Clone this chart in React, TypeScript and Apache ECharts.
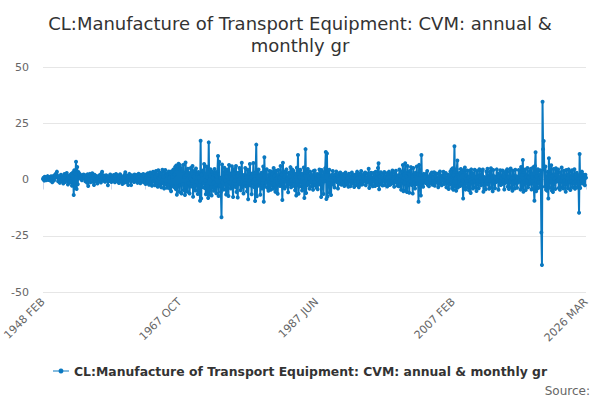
import React, { useEffect, useRef } from "react";
import * as echarts from "echarts";

const TITLE = "CL:Manufacture of Transport Equipment: CVM: annual &\nmonthly gr";
const SERIES_NAME = "CL:Manufacture of Transport Equipment: CVM: annual & monthly gr";
const MONTHS = ["JAN", "FEB", "MAR", "APR", "MAY", "JUN", "JUL", "AUG", "SEP", "OCT", "NOV", "DEC"];
const START_YEAR = 1948;
const START_MONTH = 1; // FEB (0-based)
const Y_TICKS = [-50, -25, 0, 25, 50];

const seg1948 = [
  0.2, 0.8, -0.5, 1.2, 0.6, -0.3, 1.0, 0.4, 1.5, -0.2, 0.9, 0.3,
  1.1, -0.6, 1.4, 0.5, -1.2, 0.8, 1.6, -0.4, 0.7, 2.2, 1.0, 2.8,
  3.5, 1.2, -0.8, 1.5, 0.4, -1.5, 0.9, 2.1, -0.7, 1.3, 0.2, -1.8,
  0.6, 2.4, -1.1, 1.8, -0.4, 2.9, 0.3, -2.2, 1.6, 0.8, -1.4, 2.0,
  -0.9, 2.6, -2.8, 1.4, 3.2, -6.9, 4.1, -3.8, 2.5, 7.9, -4.2, 5.6,
  -2.1, 3.3, 1.2, 2.6, 0.4, 2.0, 1.5, -0.3, 1.8, 0.9, 2.2, 0.5,
  1.4, -0.8, 1.9, 0.6, -1.5, 2.3, -2.9, 1.7, 0.2, 2.5, -1.2, 1.9,
  0.7, 2.8, -1.0, 1.3, -2.4, 2.1, 0.4, -0.9, 1.6, 0.3, -1.8, 0.8,
  1.5, -0.6, 2.0, 1.1, -1.3, 2.7, 3.4, 0.9, -0.5, 1.8, 0.2, -1.0,
  0.6, 1.9, -0.4, 1.2, -2.6, 0.8, 1.5, -0.7, 2.2, 0.3, -1.1, 0.9,
];

const seg1958 = [
  1.4, -0.5, 2.0, 0.7, -1.2, 1.6, 2.4, 0.3, -0.8, 1.8, 0.5, -1.6,
  1.1, 2.3, -0.9, 1.5, 0.2, -2.0, 1.3, 0.6, -1.4, 2.1, 3.2, 0.8,
  -1.2, 1.7, 0.4, -2.4, 1.2, 2.5, -0.6, 1.0, -2.5, 1.9, 0.7, -0.3,
  1.6, -1.1, 2.2, 0.5, -0.8, 1.4, 2.0, -1.5, 0.9, 2.6, -0.4, 1.3,
  -1.7, 2.1, 0.6, -0.9, 1.8, 2.4, -1.2, 1.5, 0.3, -2.0, 2.2, 1.0,
  -1.6, 2.8, 0.5, -2.3, 1.9, 3.1, -1.4, 2.4, -2.8, 1.6, 3.4, -1.0,
  2.7, -2.6, 1.3, 3.8, -1.9, 2.2, -3.2, 4.1, 0.6, -2.7, 3.0, 1.5,
  -3.5, 2.4, 4.3, -1.8, 1.2, -4.0, 3.3, 4.2, -2.2, 1.9, -3.7, 2.8,
  -2.4, 3.6, 0.8, -4.1, 2.9, -5.2, 3.7, 1.1, -2.9, 4.4, -3.3, 2.2,
  5.6, -4.2, 6.2, -6.8, 4.8, -3.1, 7.0, -5.5, 6.4, -2.6, 5.1, -6.2,
];

const seg1968 = [
  3.8, -2.1, 6.5, -4.8, 1.2, -6.9, 7.6, 2.1, -3.3, -5.4, 4.8, -1.6,
  2.9, -6.2, 0.4, 5.1, -3.1, -0.5, 6.0, -7.7, 1.3, 3.8, -2.6, -4.9,
  4.9, -1.0, 2.6, -6.4, 3.3, 0.9, -2.5, -9.4, 17.2, -8.4, 2.1, -3.3,
  4.0, -1.6, 6.9, -3.8, -0.4, -6.6, 5.8, 1.0, -2.9, -8.2, 16.5, -6.8,
  1.7, 4.6, -3.4, -7.1, 3.5, 0.8, -1.3, -5.0, 4.7, 2.9, -2.5, -6.1,
  1.2, 3.5, 10.4, -7.3, 7.9, -2.8, 0.8, -5.6, -16.8, 6.7, -1.4, 2.6,
  -4.5, 5.2, -0.4, 3.9, -6.7, 1.2, 4.4, -2.8, -7.3, 6.4, -1.1, 2.7,
  -4.0, 0.3, 5.9, -3.1, -7.8, 2.8, 4.7, -0.6, -3.3, 6.0, -5.6, 1.5,
  -8.0, 3.0, -1.3, 5.1, -2.0, -4.8, 1.9, 7.4, -3.5, 0.5, -6.2, 2.0,
  -1.7, 5.1, -3.0, 0.9, -5.2, 4.3, -8.8, 2.4, -0.6, 6.9, -2.7, 1.0,
];

const seg1978 = [
  -6.6, 2.7, -1.2, 7.3, -3.3, 0.1, -9.6, 3.2, 15.5, -7.4, 1.6, -2.8,
  4.4, -0.9, 2.0, -6.8, 1.3, 3.0, -4.0, -1.6, 5.8, -9.9, 9.9, -3.1,
  2.5, -1.4, 4.6, -3.7, 0.3, -5.0, 2.0, 3.8, -2.8, -4.6, 3.6, -0.2,
  2.5, -4.1, 5.1, 1.7, -2.2, -5.5, 3.9, 0.4, -1.8, -6.3, 4.2, -2.5,
  0.9, -2.9, 6.0, -1.0, 2.1, -9.1, 7.4, -3.2, 1.1, -4.0, 3.6, -0.8,
  4.5, -3.0, 0.4, -5.7, 3.0, 1.3, -2.2, 5.5, -3.5, -0.4, 4.4, -2.9,
  3.9, -0.6, 2.7, -4.8, 1.1, -7.1, 5.2, -2.4, 10.9, -6.3, 1.0, -3.1,
  4.3, -1.2, 2.7, -4.9, 0.8, -3.3, 5.3, -8.2, 2.9, 13.5, -6.0, 3.1,
  -2.6, 4.7, -1.4, 0.3, -4.1, 3.5, -0.9, 2.2, -3.0, 1.1, -4.6, 3.8,
  -1.1, 4.0, -2.7, 0.6, -3.7, 2.4, -4.3, 1.4, -2.2, 4.4, -1.0, 3.0,
];

const seg1988 = [
  -7.8, 4.2, -2.0, 1.8, -6.4, 3.3, -0.9, 5.0, 12.2, -8.7, 11.6, -7.6,
  3.4, -1.8, 4.3, -5.9, 1.1, -6.9, 2.0, -0.2, 3.8, -2.3, 0.7, -3.6,
  2.2, -0.5, 3.6, -1.1, 1.9, -4.0, 0.2, 2.8, -1.9, 3.1, -0.7, -2.3,
  1.8, -1.5, 2.4, 0.6, -2.9, 1.6, 3.1, -0.8, -2.2, 1.7, 0.6, -3.2,
  2.6, -0.5, 1.4, -2.9, 0.9, 3.1, -1.8, 0.7, 2.0, -3.3, 1.7, -0.6,
  2.3, -2.4, 3.5, 0.4, -1.0, -3.4, 2.5, 1.0, -2.3, 3.8, -0.8, -2.2,
  1.9, -1.1, 2.7, -0.6, 3.1, -2.6, 0.8, -1.3, 2.5, -0.9, 4.8, -3.8,
  1.1, -0.7, 3.0, -2.5, 0.6, -3.0, 2.9, 0.5, 1.2, -2.9, 3.4, -1.0,
  0.7, -2.4, 5.1, 7.2, -4.3, 1.4, -0.9, 3.2, -2.2, 0.9, -2.7, 2.6,
  -0.6, 3.3, -2.5, 1.0, -0.8, 2.8, -3.1, 0.7, -1.0, 3.5, -2.4, 1.2,
];

const seg1998 = [
  -2.1, 2.6, -0.9, 4.0, -1.7, 0.3, -3.2, 2.8, -0.6, 3.9, -1.5, 0.4,
  -2.8, 1.9, -3.0, 4.4, -0.3, 1.7, -4.6, 3.6, -0.8, 6.4, -5.2, 2.1,
  -1.4, 7.2, -4.8, 1.5, -5.6, 6.0, -1.7, 2.7, -5.9, 3.8, -0.9, 5.5,
  -2.4, 1.2, -6.2, 5.1, -1.5, 2.6, -4.0, 3.0, -2.1, 5.8, -1.9, 2.3,
  -9.9, 6.5, -3.3, 1.9, -7.1, 10.9, -2.5, 0.7, -3.2, 2.5, -0.8, 1.1,
  -1.6, 2.5, -0.9, 3.8, -2.4, 0.3, -3.0, 1.6, -0.1, 2.5, -1.7, 3.1,
  -2.3, 0.8, -1.6, 3.2, -2.8, 1.4, -0.9, 2.7, -1.5, 0.0, -3.4, 2.7,
  -0.8, 3.6, -2.1, 0.5, -2.6, 1.9, -0.4, 3.4, -2.0, 1.6, -1.7, 2.9,
  -3.5, 0.7, -0.9, 2.1, -4.2, 1.8, -2.3, 3.6, -0.6, 4.4, -3.8, 5.0,
  -4.6, 1.9, 14.8, -3.1, 0.4, -5.0, 4.6, 8.4, -3.6, 2.2, -1.3, 3.0,
];

const seg2008 = [
  -2.9, 4.7, -1.8, 3.4, -0.5, -8.4, 4.2, -3.0, 5.3, -4.5, 1.6, -0.7,
  4.0, -3.4, 0.8, -4.8, 3.9, -0.6, -6.0, 4.5, -1.1, 2.9, -4.0, 1.5,
  -0.8, 4.3, -3.5, 0.6, -5.1, 3.8, -0.7, 1.2, -3.9, 4.6, -1.0, 0.5,
  -2.6, 3.9, -0.8, 4.4, -5.4, 1.1, -2.3, 0.7, -4.3, 3.6, -0.9, 4.8,
  -2.2, 0.8, -4.1, 3.5, -0.6, 5.0, -3.7, 1.0, -5.2, 4.2, -0.8, 1.4,
  -3.9, 0.6, -1.1, 4.5, -0.5, 2.7, -4.6, 1.2, -0.9, 4.1, -2.4, 0.7,
  -2.0, 4.0, -0.6, 1.3, -4.4, 2.9, -1.5, 3.8, -0.7, 4.6, -3.2, 1.0,
  -4.2, 3.5, -0.8, 4.9, -3.6, 0.6, -5.0, 3.9, -1.1, 0.8, -4.0, 4.3,
  -0.9, 1.4, -3.7, 0.7, -1.3, 4.2, -0.6, 3.1, -4.5, 5.6, -3.8, 2.0,
  8.7, -5.4, 3.6, -1.0, 4.4, -4.7, 1.2, -0.8, 5.1, -3.5, 0.9, -2.1,
];

const seg2018 = [
  3.7, -1.2, 4.8, -4.4, 1.0, -0.7, 5.5, -3.9, -9.4, 6.0, 12.1, -5.2,
  1.3, -4.0, 4.6, -1.1, 0.5, -3.6, 4.1, 1.0, -23.6, -38.0, 34.6, 13.4,
  17.1, 4.5, -3.2, 5.8, -4.6, 0.9, -5.0, 3.4, -8.4, 9.4, -3.7, 2.5,
  -0.8, 6.3, -4.9, 1.4, -5.6, 4.7, -1.1, 0.6, -4.2, 5.0, -1.0, 3.6,
  -0.5, 4.4, -3.8, 0.9, -4.6, 3.2, -0.7, 5.3, -3.4, 0.8, -4.0, 3.9,
  -0.6, 1.1, -5.4, 4.2, -1.0, 0.7, -3.9, 4.5, -0.9, 3.6, -4.7, 1.0,
  -0.8, 4.1, -3.5, 0.5, -1.2, 4.6, -4.1, 1.3, -0.7, 3.0, -3.6, 2.0,
  -0.9, -14.8, 11.3, -3.8, 0.6, -0.4, 3.5, -1.8, 2.2, -1.5, 1.9, -2.6,
  2.1, 0.8,
];

const values = [
  ...seg1948, ...seg1958, ...seg1968, ...seg1978,
  ...seg1988, ...seg1998, ...seg2008, ...seg2018,
];

const categories = values.map((_, i) => {
  const m = START_MONTH + i;
  return `${START_YEAR + Math.floor(m / 12)} ${MONTHS[m % 12]}`;
});

const LAST = values.length - 1;
const FONT = "DejaVu Sans, Verdana, sans-serif";
const BLUE = "#0a78c0";

export default function App() {
  const ref = useRef<HTMLDivElement>(null);
  useEffect(() => {
    document.body.style.margin = "0";
    const chart = echarts.init(ref.current!, undefined, { renderer: "svg" });
    chart.setOption({
      animation: false,
      textStyle: { fontFamily: FONT },
      title: {
        text: TITLE,
        left: "center",
        top: 7,
        textStyle: { fontSize: 18, fontWeight: "normal", color: "#333333", lineHeight: 22, fontFamily: FONT },
      },
      grid: { left: 42, right: 14, top: 67, bottom: 108, containLabel: false },
      legend: {
        bottom: 18,
        left: "center",
        itemWidth: 16,
        itemHeight: 8,
        itemGap: 5,
        data: [{ name: SERIES_NAME, icon: "path://M0,3.4L16,3.4L16,4.6L0,4.6Z M8,1.5A2.5,2.5,0,1,1,7.99,1.5Z" }],
        textStyle: { fontSize: 12.4, fontWeight: "bold", color: "#333333", fontFamily: FONT },
      },
      graphic: [
        {
          type: "text",
          right: 10,
          bottom: 3,
          style: { text: "Source:", fontSize: 12, fill: "#666666", fontFamily: FONT },
        },
      ],
      xAxis: {
        type: "category",
        data: categories,
        boundaryGap: false,
        axisLine: { lineStyle: { color: "#ccd6eb", width: 1 } },
        axisTick: {
          length: 10,
          lineStyle: { color: "#ccd6eb" },
          interval: (i: number) => i % 59 === 0 || i === LAST,
        },
        axisLabel: {
          rotate: 45,
          color: "#666666",
          fontSize: 11,
          fontFamily: FONT,
          margin: 8,
          interval: (i: number) => i % 236 === 0 || i === LAST,
        },
        splitLine: { show: false },
      },
      yAxis: {
        type: "value",
        min: Y_TICKS[0],
        max: Y_TICKS[Y_TICKS.length - 1],
        interval: 25,
        axisLine: { show: false },
        axisTick: { show: false },
        axisLabel: { color: "#666666", fontSize: 11, fontFamily: FONT, margin: 14 },
        splitLine: { lineStyle: { color: "#e6e6e6", width: 1 } },
      },
      series: [
        {
          name: SERIES_NAME,
          type: "line",
          data: values,
          symbol: "circle",
          symbolSize: 4,
          showAllSymbol: true,
          lineStyle: { color: BLUE, width: 2 },
          itemStyle: { color: BLUE },
          emphasis: { disabled: true },
        },
      ],
    });
    return () => chart.dispose();
  }, []);
  return <div ref={ref} style={{ width: 600, height: 400 }} />;
}
